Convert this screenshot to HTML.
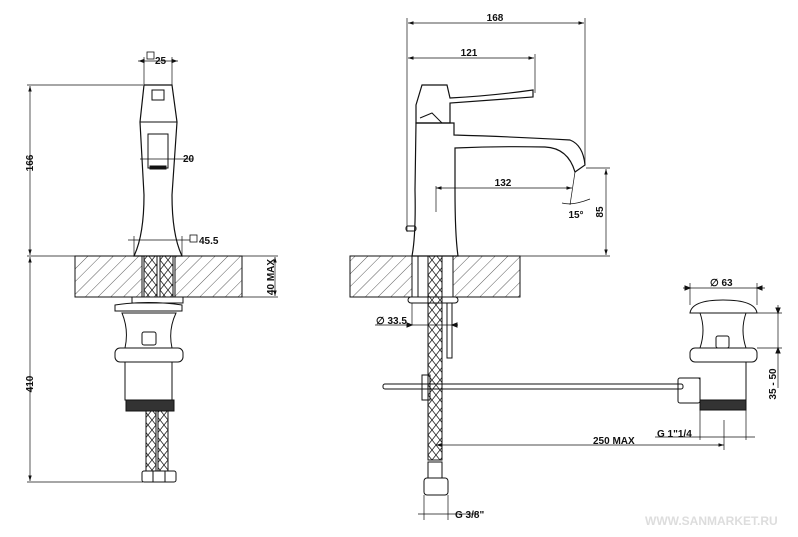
<!DOCTYPE html>
<html><head><meta charset="utf-8"><style>
html,body{margin:0;padding:0;background:#fff}
svg{display:block}
text{font-family:"Liberation Sans",sans-serif;font-weight:bold;font-size:10px;fill:#111}
</style></head><body>
<svg width="798" height="537" viewBox="0 0 798 537" xmlns="http://www.w3.org/2000/svg">
<defs>
<pattern id="h" width="9" height="9" patternUnits="userSpaceOnUse" patternTransform="rotate(45)">
<line x1="0" y1="0" x2="0" y2="9" stroke="#333" stroke-width="0.8"/></pattern>
<marker id="a" markerWidth="8" markerHeight="6" refX="8" refY="3" orient="auto-start-reverse"><path d="M0,0.5 L8,3 L0,5.5z" fill="#111"/></marker>
<pattern id="x" width="8" height="10" patternUnits="userSpaceOnUse"><path d="M0,0 L8,10 M8,0 L0,10" stroke="#222" stroke-width="0.8"/></pattern>
</defs>
<g stroke="#111" stroke-width="1" fill="none">
<!-- LEFT VIEW -->
<line x1="27" y1="85" x2="143" y2="85" stroke-width="0.7"/>
<line x1="27" y1="256" x2="278" y2="256" stroke-width="0.7"/>
<line x1="27" y1="482" x2="143" y2="482" stroke-width="0.7"/>
<line x1="30" y1="86" x2="30" y2="255" marker-start="url(#a)" marker-end="url(#a)" stroke-width="0.7"/>
<line x1="30" y1="257" x2="30" y2="481" marker-start="url(#a)" marker-end="url(#a)" stroke-width="0.7"/>
<line x1="144" y1="57" x2="144" y2="85" stroke-width="0.7"/><line x1="172" y1="57" x2="172" y2="85" stroke-width="0.7"/>
<line x1="138" y1="61" x2="178" y2="61" stroke-width="0.7"/>
<path d="M140,61 l4,-1.5 v3z M176,61 l-4,-1.5 v3z" fill="#111"/>
<path d="M144,85 L172,85 L177,122 L172,195 Q172,235 182,256 L134,256 Q144,235 144,195 L140,122 Z" stroke-width="1.2"/>
<line x1="140" y1="122" x2="177" y2="122"/>
<rect x="152" y="90" width="12" height="10"/>
<rect x="148" y="134" width="20" height="34"/>
<rect x="150" y="166" width="16" height="3" fill="#111"/>
<line x1="140" y1="159" x2="193" y2="159" stroke-width="0.7"/>
<line x1="128" y1="240" x2="190" y2="240" stroke-width="0.7"/>
<line x1="134" y1="236" x2="134" y2="256" stroke-width="0.7"/><line x1="182" y1="236" x2="182" y2="256" stroke-width="0.7"/>
<rect x="190" y="235" width="7" height="7" stroke-width="0.8"/>
<rect x="147" y="52" width="7" height="7" stroke-width="0.8"/>
<rect x="75" y="256" width="67" height="41" fill="url(#h)"/>
<rect x="175" y="256" width="67" height="41" fill="url(#h)"/>
<rect x="144" y="256" width="13" height="41" fill="url(#x)"/>
<rect x="160" y="256" width="13" height="41" fill="url(#x)"/>
<line x1="242" y1="297" x2="278" y2="297" stroke-width="0.7"/>
<line x1="275" y1="257" x2="275" y2="296" marker-start="url(#a)" marker-end="url(#a)" stroke-width="0.7"/>
<rect x="132" y="297" width="51" height="6"/>
<path d="M115,305 Q148,300 182,305 L182,311 L115,311 Z"/>
<path d="M122,313 L176,313 Q168,330 172,348 L125,348 Q129,330 122,313 Z"/>
<rect x="142" y="332" width="14" height="13" rx="2"/>
<rect x="115" y="348" width="68" height="14" rx="5"/>
<rect x="125" y="362" width="47" height="38"/>
<rect x="126" y="400" width="48" height="11" fill="#333"/>
<rect x="146" y="411" width="10" height="60" fill="url(#x)"/>
<rect x="158" y="411" width="10" height="60" fill="url(#x)"/>
<rect x="142" y="471" width="34" height="11" rx="2"/>
<line x1="153" y1="471" x2="153" y2="482"/><line x1="165" y1="471" x2="165" y2="482"/>
<!-- RIGHT VIEW -->
<line x1="407" y1="18" x2="407" y2="232" stroke-width="0.7"/>
<line x1="585" y1="18" x2="585" y2="165" stroke-width="0.7"/>
<line x1="535" y1="54" x2="535" y2="93" stroke-width="0.7"/>
<line x1="408" y1="23" x2="584" y2="23" marker-start="url(#a)" marker-end="url(#a)" stroke-width="0.7"/>
<line x1="408" y1="58" x2="534" y2="58" marker-start="url(#a)" marker-end="url(#a)" stroke-width="0.7"/>
<path d="M422,85 L447,85 L450,98 Q490,96 533,90 L533,97 Q490,100 450,103 L450,123 L416,123 L416,105 Z" stroke-width="1.2"/>
<path d="M420,118 L432,113 L442,123"/>
<path d="M416,123 L454,123 L454,135 Q520,137 570,140 Q583,145 585,165 L575,172 Q568,148 545,147 Q500,146 455,148 L455,190 Q455,235 458,256 L412,256 Q416,235 415,190 Z" stroke-width="1.2"/>
<rect x="406" y="226" width="10" height="5" rx="2"/>
<line x1="436" y1="186" x2="436" y2="212" stroke-width="0.7"/>
<line x1="436" y1="188" x2="572" y2="188" marker-start="url(#a)" marker-end="url(#a)" stroke-width="0.7"/>
<line x1="575" y1="172" x2="570" y2="205" stroke-width="0.7"/>
<path d="M562,203 Q572,206 590,199" stroke-width="0.7"/>
<line x1="586" y1="168" x2="610" y2="168" stroke-width="0.7"/>
<line x1="458" y1="256" x2="610" y2="256" stroke-width="0.7"/>
<line x1="606" y1="169" x2="606" y2="255" marker-start="url(#a)" marker-end="url(#a)" stroke-width="0.7"/>
<rect x="350" y="256" width="62" height="41" fill="url(#h)"/>
<rect x="453" y="256" width="67" height="41" fill="url(#h)"/>
<rect x="418" y="256" width="35" height="41"/>
<rect x="428" y="256" width="14" height="204" fill="url(#x)"/>
<rect x="408" y="297" width="50" height="6" rx="3"/>
<line x1="412" y1="303" x2="412" y2="325" stroke-width="0.7"/><line x1="452" y1="303" x2="452" y2="325" stroke-width="0.7"/>
<line x1="375" y1="325" x2="458" y2="325" stroke-width="0.7"/>
<path d="M412,325 l-5,-2 v4z M452,325 l5,-2 v4z" fill="#111"/>
<rect x="447" y="303" width="5" height="55"/>
<rect x="383" y="384" width="300" height="5" rx="2"/>
<rect x="422" y="375" width="8" height="25"/>
<rect x="424" y="478" width="24" height="17" rx="3"/>
<rect x="428" y="462" width="14" height="16"/>
<line x1="424" y1="495" x2="424" y2="520" stroke-width="0.7"/><line x1="448" y1="495" x2="448" y2="520" stroke-width="0.7"/>
<line x1="418" y1="514" x2="478" y2="514" stroke-width="0.7"/>
<line x1="436" y1="445" x2="724" y2="445" marker-start="url(#a)" marker-end="url(#a)" stroke-width="0.7"/>
<line x1="724" y1="420" x2="724" y2="450" stroke-width="0.7"/>
<!-- drain right -->
<line x1="690" y1="283" x2="690" y2="305" stroke-width="0.7"/><line x1="757" y1="283" x2="757" y2="305" stroke-width="0.7"/>
<line x1="683" y1="288" x2="765" y2="288" stroke-width="0.7"/>
<path d="M690,288 l-5,-2 v4z M757,288 l5,-2 v4z" fill="#111"/>
<path d="M690,313 Q692,300 723,300 Q755,300 757,313 Z"/>
<path d="M700,313 L746,313 Q740,330 746,348 L700,348 Q706,330 700,313 Z"/>
<rect x="716" y="336" width="13" height="12" rx="2"/>
<rect x="690" y="348" width="67" height="14" rx="5"/>
<path d="M700,362 L746,362 L746,400 L700,400 L700,378 L698,378"/>
<rect x="678" y="378" width="22" height="25" rx="2"/>
<rect x="700" y="400" width="46" height="10" fill="#333"/>
<line x1="757" y1="313" x2="782" y2="313" stroke-width="0.7"/>
<line x1="757" y1="348" x2="782" y2="348" stroke-width="0.7"/>
<line x1="778" y1="305" x2="778" y2="388" stroke-width="0.7"/>
<path d="M778,313 l-2,-5 h4z M778,348 l-2,5 h4z" fill="#111"/>
<line x1="700" y1="410" x2="700" y2="440" stroke-width="0.7"/><line x1="746" y1="410" x2="746" y2="440" stroke-width="0.7"/>
<line x1="655" y1="437" x2="755" y2="437" stroke-width="0.7"/>
</g>
<text x="155" y="64">25</text>
<text x="183" y="162">20</text>
<text x="199" y="244">45.5</text>
<text transform="translate(33,163) rotate(-90)" text-anchor="middle">166</text>
<text transform="translate(33,384) rotate(-90)" text-anchor="middle">410</text>
<text transform="translate(274,277) rotate(-90)" text-anchor="middle">40 MAX</text>
<text x="495" y="21" text-anchor="middle">168</text>
<text x="469" y="56" text-anchor="middle">121</text>
<text x="503" y="186" text-anchor="middle">132</text>
<text x="576" y="218" text-anchor="middle">15°</text>
<text transform="translate(603,212) rotate(-90)" text-anchor="middle">85</text>
<text x="376" y="324">∅ 33.5</text>
<text x="710" y="286">∅ 63</text>
<text transform="translate(776,384) rotate(-90)" text-anchor="middle">35 - 50</text>
<text x="657" y="437">G 1"1/4</text>
<text x="593" y="444">250 MAX</text>
<text x="455" y="518">G 3/8"</text>
<text x="645" y="525" style="fill:#ddd;font-size:12px">WWW.SANMARKET.RU</text>
</svg>
</body></html>
